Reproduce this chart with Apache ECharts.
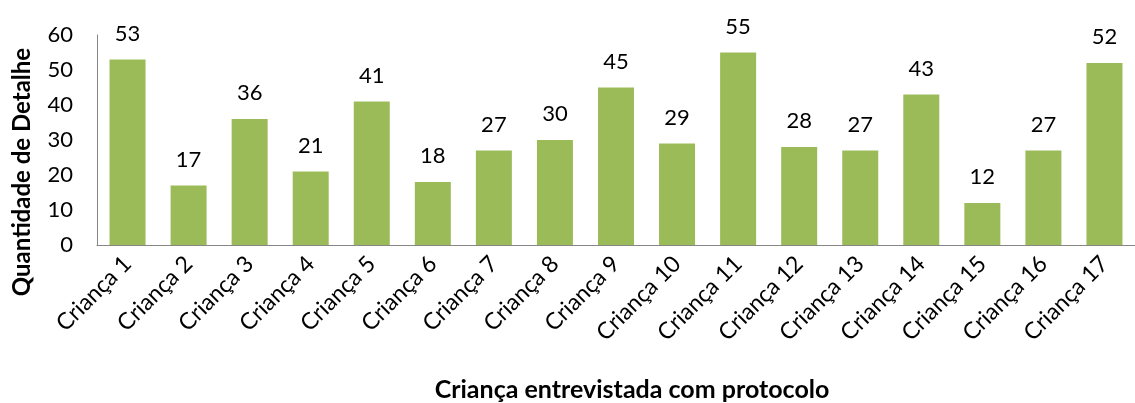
<!DOCTYPE html>
<html><head><meta charset="utf-8">
<script src="https://cdn.jsdelivr.net/npm/echarts@6/dist/echarts.min.js"></script>
<style>html,body{margin:0;padding:0;background:#fff}#c{width:1135px;height:403px}</style>
</head><body><div id="c"></div>
<script>
const categories = ["Criança 1","Criança 2","Criança 3","Criança 4","Criança 5","Criança 6","Criança 7","Criança 8","Criança 9","Criança 10","Criança 11","Criança 12","Criança 13","Criança 14","Criança 15","Criança 16","Criança 17"];
const values = [53,17,36,21,41,18,27,30,45,29,55,28,27,43,12,27,52];
const yTitle = "Quantidade de Detalhe";
const xTitle = "Criança entrevistada com protocolo";
const font = "Lato, 'Open Sans', sans-serif";
const chart = echarts.init(document.getElementById('c'));
chart.setOption({
  animation:false,
  grid:{left:97,right:0,top:35,bottom:158},
  graphic:[
    {type:'text',x:22,y:172,rotation:Math.PI/2,style:{text:yTitle,fontSize:24,fontWeight:'bold',fill:'#000',fontFamily:font,align:'center',verticalAlign:'middle'}},
    {type:'text',x:632,y:390,style:{text:xTitle,fontSize:25,fontWeight:'bold',fill:'#000',fontFamily:font,align:'center',verticalAlign:'middle'}}
  ],
  xAxis:{type:'category',data:categories,
    axisLine:{lineStyle:{color:'#868686',width:1}},axisTick:{show:false},
    axisLabel:{rotate:45,color:'#000',fontSize:23,fontFamily:font,margin:15,interval:0}},
  yAxis:{type:'value',min:0,max:60,interval:10,
    axisLine:{show:true,lineStyle:{color:'#868686',width:1}},axisTick:{show:false},
    splitLine:{show:false},
    axisLabel:{color:'#000',fontSize:22,fontFamily:font,margin:24}},
  series:[{type:'bar',data:values,barWidth:36,
    itemStyle:{color:'#9BBB59'},
    label:{show:true,position:'top',distance:15,color:'#000',fontSize:22,fontFamily:font}}]
});
</script></body></html>
